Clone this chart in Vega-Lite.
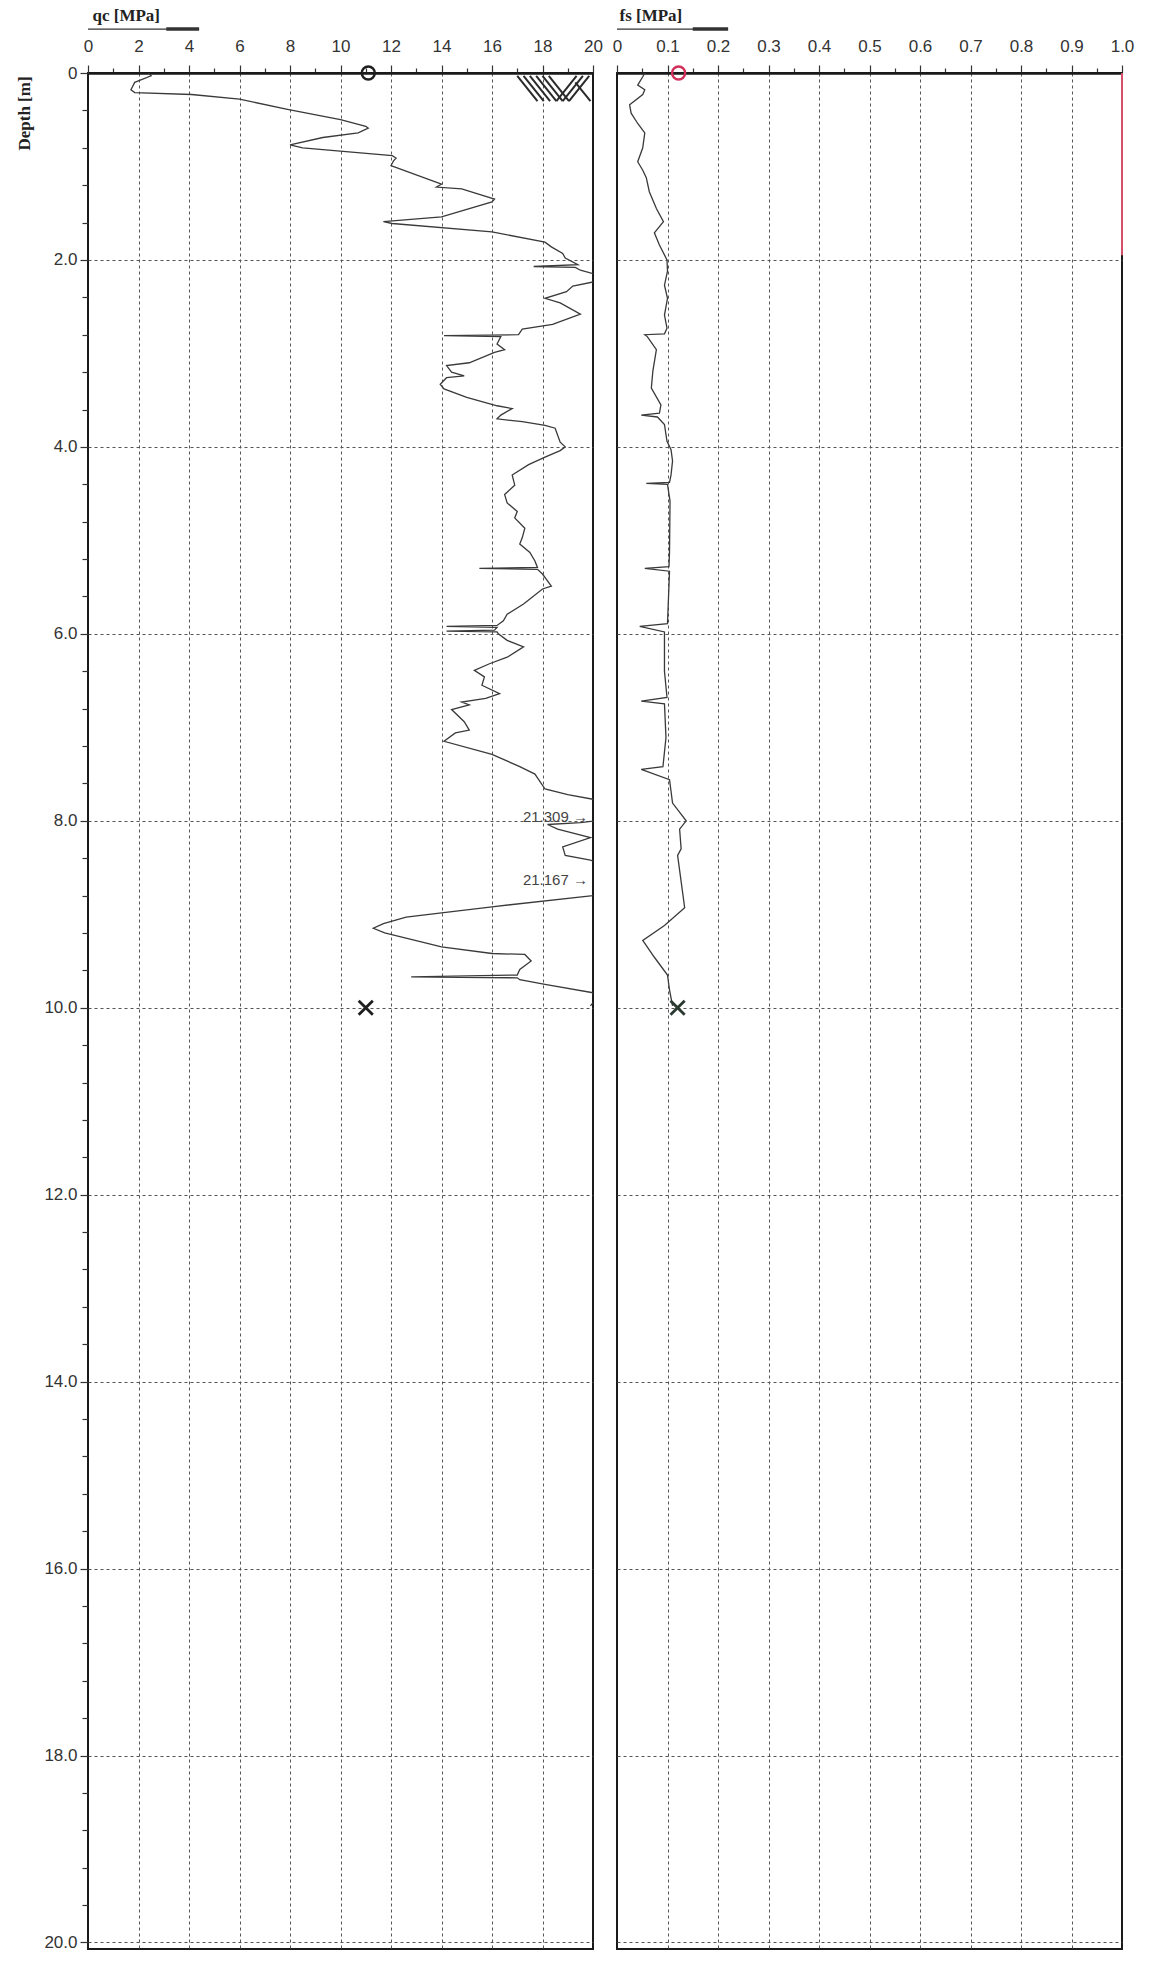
{
  "$schema": "https://vega.github.io/schema/vega-lite/v6.json",
  "background": "white",
  "padding": {"left": 14, "top": 5, "right": 10, "bottom": 5},
  "bounds": "flush",
  "spacing": 24,
  "config": {
    "view": {"stroke": "#1a1a1a", "strokeWidth": 2},
    "axis": {
      "labelFont": "Liberation Sans",
      "labelColor": "#333",
      "tickColor": "#333",
      "domainColor": "#1a1a1a",
      "gridColor": "#555",
      "gridDash": [3, 3],
      "gridWidth": 1,
      "labelOverlap": false,
      "labelFlush": false
    }
  },
  "datasets": {
    "qc": [
      {"depth": 0.0, "qc": 2.4}, {"depth": 0.03, "qc": 2.5}, {"depth": 0.1, "qc": 1.85}, {"depth": 0.18, "qc": 1.7},
      {"depth": 0.21, "qc": 1.85}, {"depth": 0.23, "qc": 4.1}, {"depth": 0.28, "qc": 6.0}, {"depth": 0.39, "qc": 7.9},
      {"depth": 0.5, "qc": 10.0}, {"depth": 0.57, "qc": 11.0}, {"depth": 0.59, "qc": 11.1}, {"depth": 0.64, "qc": 10.7},
      {"depth": 0.69, "qc": 9.3}, {"depth": 0.77, "qc": 8.0}, {"depth": 0.8, "qc": 8.5}, {"depth": 0.885, "qc": 12.05},
      {"depth": 0.91, "qc": 12.2}, {"depth": 0.94, "qc": 12.1}, {"depth": 0.99, "qc": 12.0}, {"depth": 1.19, "qc": 14.0},
      {"depth": 1.22, "qc": 13.8}, {"depth": 1.24, "qc": 14.8}, {"depth": 1.35, "qc": 16.1}, {"depth": 1.38, "qc": 16.0},
      {"depth": 1.54, "qc": 14.0}, {"depth": 1.59, "qc": 11.7}, {"depth": 1.61, "qc": 12.05}, {"depth": 1.7, "qc": 16.0},
      {"depth": 1.81, "qc": 18.1}, {"depth": 1.86, "qc": 18.35}, {"depth": 1.93, "qc": 18.8}, {"depth": 1.98, "qc": 18.9},
      {"depth": 2.05, "qc": 19.4}, {"depth": 2.07, "qc": 17.65}, {"depth": 2.08, "qc": 19.3}, {"depth": 2.11, "qc": 19.5},
      {"depth": 2.16, "qc": 20.2}, {"depth": 2.23, "qc": 20.1}, {"depth": 2.28, "qc": 19.2}, {"depth": 2.34, "qc": 18.95},
      {"depth": 2.41, "qc": 18.1}, {"depth": 2.46, "qc": 18.7}, {"depth": 2.58, "qc": 19.5}, {"depth": 2.69, "qc": 18.4},
      {"depth": 2.74, "qc": 17.2}, {"depth": 2.8, "qc": 17.05}, {"depth": 2.81, "qc": 14.1}, {"depth": 2.82, "qc": 16.35},
      {"depth": 2.9, "qc": 16.2}, {"depth": 2.96, "qc": 16.5}, {"depth": 2.99, "qc": 16.1}, {"depth": 3.1, "qc": 15.1},
      {"depth": 3.13, "qc": 14.2}, {"depth": 3.2, "qc": 14.4}, {"depth": 3.24, "qc": 14.9}, {"depth": 3.26, "qc": 14.2},
      {"depth": 3.33, "qc": 13.95}, {"depth": 3.38, "qc": 14.1}, {"depth": 3.47, "qc": 15.0}, {"depth": 3.56, "qc": 16.2},
      {"depth": 3.59, "qc": 16.8}, {"depth": 3.66, "qc": 16.35}, {"depth": 3.7, "qc": 16.2}, {"depth": 3.73, "qc": 17.2},
      {"depth": 3.77, "qc": 18.1}, {"depth": 3.8, "qc": 18.5}, {"depth": 3.95, "qc": 18.7}, {"depth": 4.0, "qc": 18.9},
      {"depth": 4.04, "qc": 18.7}, {"depth": 4.11, "qc": 18.1}, {"depth": 4.19, "qc": 17.45}, {"depth": 4.3, "qc": 16.8},
      {"depth": 4.41, "qc": 16.9}, {"depth": 4.51, "qc": 16.5}, {"depth": 4.6, "qc": 16.6}, {"depth": 4.69, "qc": 17.0},
      {"depth": 4.76, "qc": 16.9}, {"depth": 4.87, "qc": 17.3}, {"depth": 4.97, "qc": 17.2}, {"depth": 5.04, "qc": 17.1},
      {"depth": 5.13, "qc": 17.5}, {"depth": 5.22, "qc": 17.7}, {"depth": 5.29, "qc": 17.8}, {"depth": 5.3, "qc": 15.5},
      {"depth": 5.31, "qc": 17.8}, {"depth": 5.36, "qc": 18.0}, {"depth": 5.49, "qc": 18.35}, {"depth": 5.52, "qc": 18.0},
      {"depth": 5.68, "qc": 17.25}, {"depth": 5.79, "qc": 16.6}, {"depth": 5.86, "qc": 16.45}, {"depth": 5.91, "qc": 16.2},
      {"depth": 5.92, "qc": 14.2}, {"depth": 5.93, "qc": 16.2}, {"depth": 5.96, "qc": 16.1}, {"depth": 5.97, "qc": 14.2},
      {"depth": 5.98, "qc": 16.2}, {"depth": 6.0, "qc": 16.25}, {"depth": 6.07, "qc": 16.6}, {"depth": 6.14, "qc": 17.25},
      {"depth": 6.25, "qc": 16.6}, {"depth": 6.32, "qc": 15.9}, {"depth": 6.39, "qc": 15.3}, {"depth": 6.46, "qc": 15.7},
      {"depth": 6.55, "qc": 15.6}, {"depth": 6.64, "qc": 16.3}, {"depth": 6.69, "qc": 15.75}, {"depth": 6.73, "qc": 14.8},
      {"depth": 6.76, "qc": 15.1}, {"depth": 6.81, "qc": 14.4}, {"depth": 6.94, "qc": 14.9}, {"depth": 7.03, "qc": 15.1},
      {"depth": 7.06, "qc": 14.55}, {"depth": 7.15, "qc": 14.1}, {"depth": 7.29, "qc": 16.0}, {"depth": 7.42, "qc": 17.1},
      {"depth": 7.5, "qc": 17.7}, {"depth": 7.66, "qc": 18.1}, {"depth": 7.72, "qc": 19.0}, {"depth": 7.77, "qc": 20.0},
      {"depth": 7.84, "qc": 21.0}, {"depth": 7.9, "qc": 21.309}, {"depth": 7.97, "qc": 21.0}, {"depth": 8.02, "qc": 19.5},
      {"depth": 8.04, "qc": 18.2}, {"depth": 8.09, "qc": 18.6}, {"depth": 8.18, "qc": 19.9}, {"depth": 8.28, "qc": 18.8},
      {"depth": 8.37, "qc": 18.9}, {"depth": 8.42, "qc": 19.9}, {"depth": 8.5, "qc": 20.6}, {"depth": 8.6, "qc": 21.167},
      {"depth": 8.7, "qc": 20.8}, {"depth": 8.8, "qc": 20.0}, {"depth": 8.92, "qc": 16.0}, {"depth": 8.97, "qc": 14.5},
      {"depth": 9.03, "qc": 12.6}, {"depth": 9.1, "qc": 11.7}, {"depth": 9.15, "qc": 11.3}, {"depth": 9.2, "qc": 11.75},
      {"depth": 9.35, "qc": 14.0}, {"depth": 9.42, "qc": 16.0}, {"depth": 9.43, "qc": 17.3}, {"depth": 9.5, "qc": 17.55},
      {"depth": 9.59, "qc": 17.1}, {"depth": 9.65, "qc": 17.0}, {"depth": 9.67, "qc": 12.8}, {"depth": 9.68, "qc": 17.0},
      {"depth": 9.7, "qc": 17.1}, {"depth": 9.75, "qc": 18.1}, {"depth": 9.84, "qc": 20.0}, {"depth": 9.93, "qc": 20.05},
      {"depth": 9.98, "qc": 19.9}
    ],
    "fs": [
      {"depth": 0.0, "fs": 0.055}, {"depth": 0.04, "fs": 0.051}, {"depth": 0.13, "fs": 0.041}, {"depth": 0.18, "fs": 0.055},
      {"depth": 0.23, "fs": 0.051}, {"depth": 0.34, "fs": 0.025}, {"depth": 0.43, "fs": 0.028}, {"depth": 0.54, "fs": 0.041},
      {"depth": 0.64, "fs": 0.055}, {"depth": 0.8, "fs": 0.051}, {"depth": 0.95, "fs": 0.041}, {"depth": 1.04, "fs": 0.051},
      {"depth": 1.12, "fs": 0.058}, {"depth": 1.27, "fs": 0.064}, {"depth": 1.45, "fs": 0.078}, {"depth": 1.59, "fs": 0.092},
      {"depth": 1.71, "fs": 0.074}, {"depth": 1.84, "fs": 0.084}, {"depth": 2.0, "fs": 0.099}, {"depth": 2.12, "fs": 0.1},
      {"depth": 2.27, "fs": 0.094}, {"depth": 2.41, "fs": 0.1}, {"depth": 2.59, "fs": 0.094}, {"depth": 2.73, "fs": 0.099},
      {"depth": 2.79, "fs": 0.094}, {"depth": 2.8, "fs": 0.055}, {"depth": 2.82, "fs": 0.06}, {"depth": 2.96, "fs": 0.078},
      {"depth": 3.19, "fs": 0.071}, {"depth": 3.37, "fs": 0.068}, {"depth": 3.55, "fs": 0.087}, {"depth": 3.64, "fs": 0.084},
      {"depth": 3.66, "fs": 0.048}, {"depth": 3.68, "fs": 0.08}, {"depth": 3.76, "fs": 0.094}, {"depth": 3.94, "fs": 0.099},
      {"depth": 4.03, "fs": 0.107}, {"depth": 4.15, "fs": 0.11}, {"depth": 4.3, "fs": 0.107}, {"depth": 4.38, "fs": 0.104},
      {"depth": 4.39, "fs": 0.058}, {"depth": 4.4, "fs": 0.1}, {"depth": 4.58, "fs": 0.105}, {"depth": 5.12, "fs": 0.104},
      {"depth": 5.28, "fs": 0.103}, {"depth": 5.3, "fs": 0.055}, {"depth": 5.33, "fs": 0.104}, {"depth": 5.89, "fs": 0.1},
      {"depth": 5.92, "fs": 0.045}, {"depth": 5.98, "fs": 0.094}, {"depth": 6.4, "fs": 0.094}, {"depth": 6.68, "fs": 0.099},
      {"depth": 6.72, "fs": 0.048}, {"depth": 6.75, "fs": 0.094}, {"depth": 7.11, "fs": 0.097}, {"depth": 7.42, "fs": 0.091},
      {"depth": 7.45, "fs": 0.048}, {"depth": 7.56, "fs": 0.104}, {"depth": 7.81, "fs": 0.11}, {"depth": 8.0, "fs": 0.137},
      {"depth": 8.09, "fs": 0.124}, {"depth": 8.3, "fs": 0.127}, {"depth": 8.37, "fs": 0.12}, {"depth": 8.93, "fs": 0.134},
      {"depth": 9.12, "fs": 0.094}, {"depth": 9.28, "fs": 0.051}, {"depth": 9.46, "fs": 0.074}, {"depth": 9.65, "fs": 0.1},
      {"depth": 9.81, "fs": 0.104}, {"depth": 9.98, "fs": 0.11}
    ],
    "qcMarkers": [
      {"kind": "start", "qc": 11.1, "depth": 0.0},
      {"kind": "end", "qc": 11.0, "depth": 10.0}
    ],
    "fsMarkers": [
      {"kind": "start", "fs": 0.122, "depth": 0.0},
      {"kind": "end", "fs": 0.12, "depth": 10.0}
    ],
    "hatch": [
      {"qc": 17.0, "qc2": 17.8, "depth": 0.03, "depth2": 0.3},
      {"qc": 17.25, "qc2": 18.05, "depth": 0.03, "depth2": 0.3},
      {"qc": 17.5, "qc2": 18.3, "depth": 0.03, "depth2": 0.3},
      {"qc": 17.75, "qc2": 18.55, "depth": 0.03, "depth2": 0.3},
      {"qc": 18.0, "qc2": 18.8, "depth": 0.03, "depth2": 0.3},
      {"qc": 18.25, "qc2": 19.05, "depth": 0.03, "depth2": 0.3},
      {"qc": 19.35, "qc2": 18.55, "depth": 0.03, "depth2": 0.3},
      {"qc": 19.6, "qc2": 18.8, "depth": 0.03, "depth2": 0.3},
      {"qc": 19.85, "qc2": 19.05, "depth": 0.03, "depth2": 0.3},
      {"qc": 19.3, "qc2": 19.9, "depth": 0.1, "depth2": 0.3}
    ],
    "notes": [
      {"qc": 19.8, "depth": 7.96, "label": "21.309 →"},
      {"qc": 19.8, "depth": 8.63, "label": "21.167 →"}
    ],
    "qcArrow": [{"qc": 0, "qc2": 4.4, "depth": -0.47}],
    "qcArrowHead": [{"qc": 3.1, "qc2": 4.4, "depth": -0.47}],
    "fsArrow": [{"fs": 0, "fs2": 0.22, "depth": -0.47}],
    "fsArrowHead": [{"fs": 0.15, "fs2": 0.22, "depth": -0.47}],
    "fsEdge": [{"fs": 1.0, "depth": 0.0, "depth2": 1.95}]
  },
  "hconcat": [
    {
      "width": 505,
      "height": 1876,
      "layer": [
        {
          "data": {"name": "qc"},
          "mark": {"type": "line", "color": "#3a3a3a", "strokeWidth": 1.3, "clip": true},
          "encoding": {
            "x": {
              "field": "qc", "type": "quantitative",
              "scale": {"domain": [0, 20], "nice": false, "zero": false},
              "axis": {
                "orient": "top",
                "values": [0,1,2,3,4,5,6,7,8,9,10,11,12,13,14,15,16,17,18,19,20],
                "tickCount": 200,
                "labelExpr": "datum.value % 2 == 0 ? format(datum.value, 'd') : ''",
                "labelFont": "Liberation Sans Narrow, Liberation Sans",
                "labelFontSize": 17,
                "labelPadding": 10,
                "labelOverlap": false,
                "labelFlush": false,
                "tickSize": {"condition": {"test": "datum.value % 2 == 0", "value": 8}, "value": 5},
                "tickWidth": 1.2,
                "grid": true,
                "gridOpacity": {"condition": {"test": "datum.value % 2 == 0 && datum.value > 0 && datum.value < 20", "value": 1}, "value": 0},
                "domainWidth": 2.5,
                "title": "qc [MPa]",
                "titleFont": "Liberation Serif",
                "titleFontSize": 17,
                "titleFontWeight": "bold",
                "titleColor": "#222",
                "titleX": 4,
                "titleY": -58,
                "titleAlign": "left",
                "titleAnchor": "start",
                "titleBaseline": "middle"
              }
            },
            "y": {
              "field": "depth", "type": "quantitative",
              "scale": {"domain": [0, 20.07], "nice": false, "zero": false, "reverse": true},
              "axis": {
                "orient": "left",
                "values": [0,0.4,0.8,1.2,1.6,2,2.4,2.8,3.2,3.6,4,4.4,4.8,5.2,5.6,6,6.4,6.8,7.2,7.6,8,8.4,8.8,9.2,9.6,10,10.4,10.8,11.2,11.6,12,12.4,12.8,13.2,13.6,14,14.4,14.8,15.2,15.6,16,16.4,16.8,17.2,17.6,18,18.4,18.8,19.2,19.6,20],
                "tickCount": 200,
                "labelExpr": "datum.value % 2 == 0 ? (datum.value == 0 ? '0' : format(datum.value, '.1f')) : ''",
                "labelFontSize": 17,
                "labelPadding": 3,
                "labelOverlap": false,
                "labelFlush": false,
                "tickSize": {"condition": {"test": "datum.value % 2 == 0", "value": 8}, "value": 6},
                "tickWidth": 1.2,
                "grid": true,
                "gridOpacity": {"condition": {"test": "datum.value % 2 == 0 && datum.value > 0", "value": 1}, "value": 0},
                "domain": false,
                "title": "Depth [m]",
                "titleFont": "Liberation Serif",
                "titleFontSize": 17,
                "titleFontWeight": "bold",
                "titleColor": "#222",
                "titleAngle": -90,
                "titleX": -64,
                "titleY": 40,
                "titleAlign": "center",
                "titleBaseline": "middle"
              }
            },
            "order": {"field": "depth", "type": "quantitative"}
          }
        },
        {
          "data": {"name": "hatch"},
          "mark": {"type": "rule", "color": "#2a2a2a", "strokeWidth": 2, "clip": true},
          "encoding": {
            "x": {"field": "qc", "type": "quantitative"},
            "x2": {"field": "qc2"},
            "y": {"field": "depth", "type": "quantitative"},
            "y2": {"field": "depth2"}
          }
        },
        {
          "data": {"name": "qcArrow"},
          "mark": {"type": "rule", "color": "#333", "strokeWidth": 1.2},
          "encoding": {
            "x": {"field": "qc", "type": "quantitative"},
            "x2": {"field": "qc2"},
            "y": {"field": "depth", "type": "quantitative"}
          }
        },
        {
          "data": {"name": "qcArrowHead"},
          "mark": {"type": "rule", "color": "#333", "strokeWidth": 3.5},
          "encoding": {
            "x": {"field": "qc", "type": "quantitative"},
            "x2": {"field": "qc2"},
            "y": {"field": "depth", "type": "quantitative"}
          }
        },
        {
          "data": {"name": "notes"},
          "mark": {"type": "text", "align": "right", "baseline": "middle", "font": "Liberation Sans", "fontSize": 15, "color": "#444"},
          "encoding": {
            "x": {"field": "qc", "type": "quantitative"},
            "y": {"field": "depth", "type": "quantitative"},
            "text": {"field": "label"}
          }
        },
        {
          "data": {"name": "qcMarkers"},
          "transform": [{"filter": "datum.kind == 'start'"}],
          "mark": {"type": "point", "shape": "circle", "filled": false, "size": 170, "strokeWidth": 2.4, "color": "#1f1f1f", "opacity": 1},
          "encoding": {
            "x": {"field": "qc", "type": "quantitative"},
            "y": {"field": "depth", "type": "quantitative"}
          }
        },
        {
          "data": {"name": "qcMarkers"},
          "transform": [{"filter": "datum.kind == 'end'"}],
          "mark": {"type": "point", "shape": "M-1,-1L1,1M-1,1L1,-1", "filled": false, "size": 200, "strokeWidth": 2.8, "color": "#1f1f1f", "opacity": 1},
          "encoding": {
            "x": {"field": "qc", "type": "quantitative"},
            "y": {"field": "depth", "type": "quantitative"}
          }
        }
      ]
    },
    {
      "width": 505,
      "height": 1876,
      "layer": [
        {
          "data": {"name": "fs"},
          "mark": {"type": "line", "color": "#3a3a3a", "strokeWidth": 1.3, "clip": true},
          "encoding": {
            "x": {
              "field": "fs", "type": "quantitative",
              "scale": {"domain": [0, 1], "nice": false, "zero": false},
              "axis": {
                "orient": "top",
                "values": [0,0.05,0.1,0.15,0.2,0.25,0.3,0.35,0.4,0.45,0.5,0.55,0.6,0.65,0.7,0.75,0.8,0.85,0.9,0.95,1],
                "tickCount": 200,
                "labelExpr": "abs(round(datum.value*10) - datum.value*10) < 0.001 ? (datum.value == 0 ? '0' : format(datum.value, '.1f')) : ''",
                "labelFont": "Liberation Sans Narrow, Liberation Sans",
                "labelFontSize": 17,
                "labelPadding": 10,
                "labelOverlap": false,
                "labelFlush": false,
                "tickSize": {"condition": {"test": "abs(round(datum.value*10) - datum.value*10) < 0.001", "value": 8}, "value": 5},
                "tickWidth": 1.2,
                "grid": true,
                "gridOpacity": {"condition": {"test": "abs(round(datum.value*10) - datum.value*10) < 0.001 && datum.value > 0.01 && datum.value < 0.99", "value": 1}, "value": 0},
                "domainWidth": 2.5,
                "title": "fs [MPa]",
                "titleFont": "Liberation Serif",
                "titleFontSize": 17,
                "titleFontWeight": "bold",
                "titleColor": "#222",
                "titleX": 2,
                "titleY": -58,
                "titleAlign": "left",
                "titleAnchor": "start",
                "titleBaseline": "middle"
              }
            },
            "y": {
              "field": "depth", "type": "quantitative",
              "scale": {"domain": [0, 20.07], "nice": false, "zero": false, "reverse": true},
              "axis": {
                "orient": "left",
                "values": [0,2,4,6,8,10,12,14,16,18,20],
                "tickCount": 200,
                "labels": false,
                "ticks": false,
                "domain": false,
                "labelOverlap": false,
                "grid": true,
                "gridOpacity": {"condition": {"test": "datum.value > 0", "value": 1}, "value": 0},
                "title": null
              }
            },
            "order": {"field": "depth", "type": "quantitative"}
          }
        },
        {
          "data": {"name": "fsEdge"},
          "mark": {"type": "rule", "color": "#d4506a", "strokeWidth": 2},
          "encoding": {
            "x": {"field": "fs", "type": "quantitative"},
            "y": {"field": "depth", "type": "quantitative"},
            "y2": {"field": "depth2"}
          }
        },
        {
          "data": {"name": "fsArrow"},
          "mark": {"type": "rule", "color": "#333", "strokeWidth": 1.2},
          "encoding": {
            "x": {"field": "fs", "type": "quantitative"},
            "x2": {"field": "fs2"},
            "y": {"field": "depth", "type": "quantitative"}
          }
        },
        {
          "data": {"name": "fsArrowHead"},
          "mark": {"type": "rule", "color": "#333", "strokeWidth": 3.5},
          "encoding": {
            "x": {"field": "fs", "type": "quantitative"},
            "x2": {"field": "fs2"},
            "y": {"field": "depth", "type": "quantitative"}
          }
        },
        {
          "data": {"name": "fsMarkers"},
          "transform": [{"filter": "datum.kind == 'start'"}],
          "mark": {"type": "point", "shape": "circle", "filled": false, "size": 170, "strokeWidth": 2.4, "color": "#d0305a", "opacity": 1},
          "encoding": {
            "x": {"field": "fs", "type": "quantitative"},
            "y": {"field": "depth", "type": "quantitative"}
          }
        },
        {
          "data": {"name": "fsMarkers"},
          "transform": [{"filter": "datum.kind == 'end'"}],
          "mark": {"type": "point", "shape": "M-1,-1L1,1M-1,1L1,-1", "filled": false, "size": 200, "strokeWidth": 2.8, "color": "#2b3a30", "opacity": 1},
          "encoding": {
            "x": {"field": "fs", "type": "quantitative"},
            "y": {"field": "depth", "type": "quantitative"}
          }
        }
      ]
    }
  ]
}
